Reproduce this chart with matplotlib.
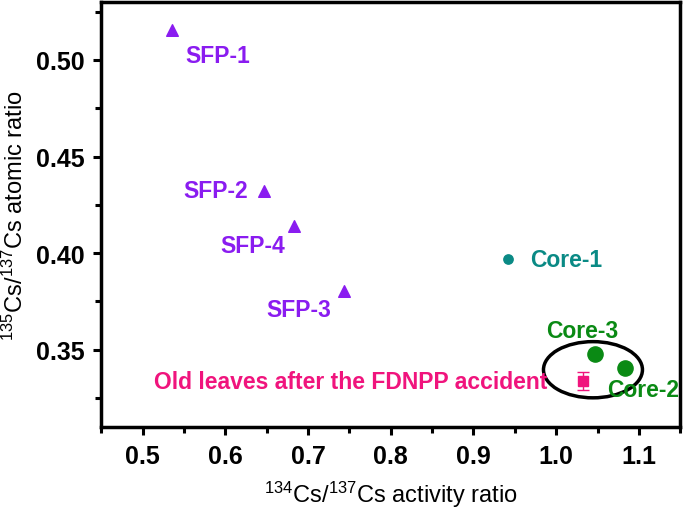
import numpy as np
import matplotlib
matplotlib.use("Agg")
import matplotlib.pyplot as plt
from matplotlib.patches import Ellipse
from matplotlib.ticker import MultipleLocator

plt.rcParams['font.family'] = ['Liberation Sans', 'DejaVu Sans']
plt.rcParams['mathtext.fontset'] = 'custom'
plt.rcParams['mathtext.rm'] = 'Liberation Sans'
plt.rcParams['mathtext.it'] = 'Liberation Sans:italic'
plt.rcParams['mathtext.bf'] = 'Liberation Sans:bold'

# spent fuel pools
sfp_names = ["SFP-1", "SFP-2", "SFP-4", "SFP-3"]
sfp_x = [0.535, 0.647, 0.683, 0.743]
sfp_y = [0.5155, 0.4324, 0.4141, 0.3803]

# reactor cores
core_names = ["Core-1", "Core-3", "Core-2"]
core_x = [0.942, 1.047, 1.083]
core_y = [0.3968, 0.3478, 0.3405]
core_colors = ["#0a8a85", "#0a8a14", "#0a8a14"]
core_sizes = [45, 120, 120]

# old leaves
leaf_x = [1.033]
leaf_y = [0.3339]
leaf_err = [0.0047]
leaf_label = "Old leaves after the FDNPP accident"

purple = "#8a1cf0"
pink = "#f0147d"

fig, ax = plt.subplots(figsize=(6.85, 5.10), dpi=100)
fig.subplots_adjust(left=0.148, right=0.993, top=0.994, bottom=0.161)

ax.scatter(sfp_x, sfp_y, marker='^', s=70, color=purple, zorder=3)
for i in range(3):
    ax.scatter(core_x[i], core_y[i], marker='o', s=core_sizes[i],
               color=core_colors[i], zorder=3)
ax.errorbar(leaf_x, leaf_y, yerr=leaf_err, fmt='s', ms=7, color=pink,
            ecolor=pink, capsize=4, elinewidth=1, capthick=1, zorder=3)

ell = Ellipse((1.0445, 0.3396), 0.1197, 0.0291, angle=0, fill=False,
              edgecolor='black', linewidth=2.5, zorder=2)
ax.add_patch(ell)

# labels
lbl_pos = {
    "SFP-1": (0.552, 0.5025, 'left'),
    "SFP-2": (0.627, 0.4324, 'right'),
    "SFP-4": (0.672, 0.4037, 'right'),
    "SFP-3": (0.7285, 0.3708, 'right'),
}
for n in sfp_names:
    x, y, ha = lbl_pos[n]
    ax.text(x, y, n, color=purple, fontsize=16.5, fontweight='bold',
            ha=ha, va='center')

core_lbl = {
    "Core-1": (0.9686, 0.3968, 'left'),
    "Core-3": (0.988, 0.3599, 'left'),
    "Core-2": (1.062, 0.3292, 'left'),
}
for i, n in enumerate(core_names):
    x, y, ha = core_lbl[n]
    ax.text(x, y, n, color=core_colors[i], fontsize=16.5, fontweight='bold',
            ha=ha, va='center')

ax.text(0.5133, 0.3335, leaf_label, color=pink, fontsize=16.5,
        fontweight='bold', ha='left', va='center')

ax.set_xlim(0.45, 1.15)
ax.set_ylim(0.31, 0.53)
ax.xaxis.set_major_locator(MultipleLocator(0.1))
ax.xaxis.set_minor_locator(MultipleLocator(0.05))
ax.yaxis.set_major_locator(MultipleLocator(0.05))
ax.yaxis.set_minor_locator(MultipleLocator(0.025))
ax.set_xticks([0.5, 0.6, 0.7, 0.8, 0.9, 1.0, 1.1])
ax.set_xticklabels(["0.5", "0.6", "0.7", "0.8", "0.9", "1.0", "1.1"])
ax.set_yticks([0.35, 0.40, 0.45, 0.50])
ax.set_yticklabels(["0.35", "0.40", "0.45", "0.50"])

for lab in ax.get_xticklabels() + ax.get_yticklabels():
    lab.set_fontweight('bold')
    lab.set_fontsize(18)

ax.tick_params(which='major', direction='out', length=6, width=2.2, pad=6)
ax.tick_params(which='minor', direction='out', length=4, width=2.2)
for sp in ax.spines.values():
    sp.set_linewidth(2.5)

ax.set_xlabel(r'$^{134}$Cs/$^{137}$Cs activity ratio', fontsize=17, labelpad=8)
ax.set_ylabel(r'$^{135}$Cs/$^{137}$Cs atomic ratio', fontsize=17, labelpad=6)

fig.savefig("out.png", dpi=100)
